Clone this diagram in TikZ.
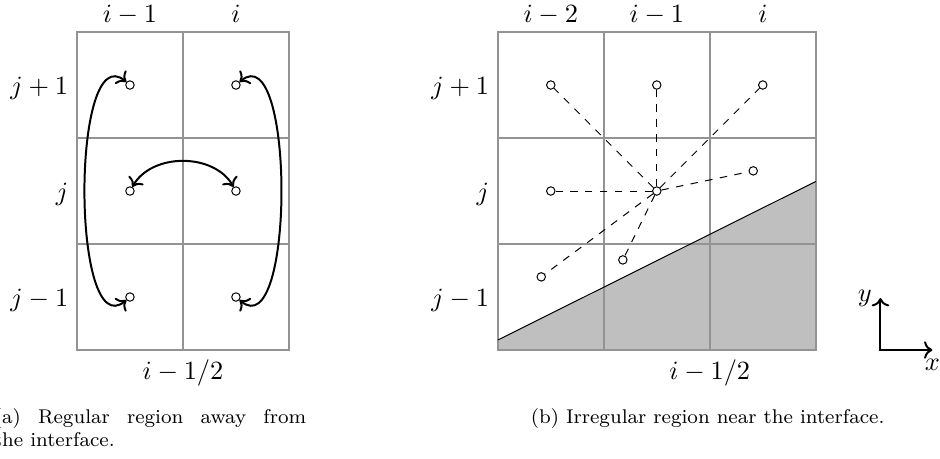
\documentclass[tikz,border=0pt]{standalone}
\usepackage{fix-cm}
\usetikzlibrary{arrows.meta,positioning}
\tikzset{
  pt/.style={circle,draw,fill=white,inner sep=0pt,minimum size=3.4pt},
  cellline/.style={draw=gray!85,line width=.6pt},
  hop/.style={<->,thick},
  link/.style={dashed},
  lab/.style={font=\fontsize{10.6}{13}\selectfont},
  collab/.style={lab,anchor=base},
  rowlab/.style={lab,anchor=base east},
}
\begin{document}
\begin{tikzpicture}[x=1.5cm,y=1.5cm]
  \useasboundingbox (-0.726,-1.028) rectangle (8.142,3.302);
  % regular region
  \draw[cellline] (0,0) rectangle (2,3);
  \draw[cellline] (1,0) -- (1,3);
  \foreach \y in {1,2} \draw[cellline] (0,\y) -- (2,\y);
  \foreach \c in {0,1} \foreach \r in {0,1,2}
    \node[pt] (L\c\r) at (\c+.5,\r+.5) {};
  \draw[hop] (L02) to[out=140,in=220,looseness=.85] (L00);
  \draw[hop] (L12) to[out=40,in=-40,looseness=.85] (L10);
  \draw[hop] (L01) to[bend left=60] (L11);
  \node[collab] (lc0) at (.5,3.088) {$i-1$};
  \node[collab] (lc1) at (1.5,3.088) {$i$};
  \node[rowlab] (lr2) at (0,2.415) {$j+1$};
  \node[rowlab] (lr1) at (0,1.415) {$j$};
  \node[rowlab] (lr0) at (0,.415) {$j-1$};
  \node[collab] (lhalf) at (1,-.274) {$i-1/2$};
  \node[anchor=base west,inner sep=0pt,text width=4.42cm,align=justify,
    font=\footnotesize] (capa) at (-0.788,-0.689)
    {(a) Regular region away from\linebreak the interface.};
  % irregular region
  \begin{scope}[shift={(3.97,0)}]
    \fill[lightgray] (0,0) -- (0,.094) -- (3,1.59) -- (3,0) -- cycle;
    \draw[cellline] (0,0) rectangle (3,3);
    \foreach \x in {1,2} \draw[cellline] (\x,0) -- (\x,3);
    \foreach \y in {1,2} \draw[cellline] (0,\y) -- (3,\y);
    \draw (0,.094) -- (3,1.59);
    \foreach \c in {0,1,2} \node[pt] (R\c2) at (\c+.5,2.5) {};
    \node[pt] (R01) at (.5,1.5) {};
    \node[pt] (R11) at (1.5,1.5) {};
    \node[pt] (R21) at (2.41,1.69) {};
    \node[pt] (R00) at (.41,.69) {};
    \node[pt] (R10) at (1.18,.85) {};
    \foreach \p in {R02,R12,R22,R01,R21,R00,R10}
      \draw[link] (R11) -- (\p);
    \node[collab] (rc0) at (.5,3.088) {$i-2$};
    \node[collab] (rc1) at (1.5,3.088) {$i-1$};
    \node[collab] (rc2) at (2.5,3.088) {$i$};
    \node[rowlab] (rr2) at (0,2.415) {$j+1$};
    \node[rowlab] (rr1) at (0,1.415) {$j$};
    \node[rowlab] (rr0) at (0,.415) {$j-1$};
    \node[collab] (rhalf) at (2,-.274) {$i-1/2$};
  \end{scope}
  \node[anchor=base,font=\footnotesize] (capb) at (5.95,-0.689)
    {(b) Irregular region near the interface.};
  % axes
  \coordinate (o) at (7.58,0);
  \coordinate (ax) at (8.07,0);
  \coordinate (ay) at (7.58,.49);
  \draw[<->,thick] (ay) -- (o) -- (ax);
  \node[lab,below] (xlab) at (ax) {$x$};
  \node[lab,left] (ylab) at (ay) {$y$};
\end{tikzpicture}
\end{document}
